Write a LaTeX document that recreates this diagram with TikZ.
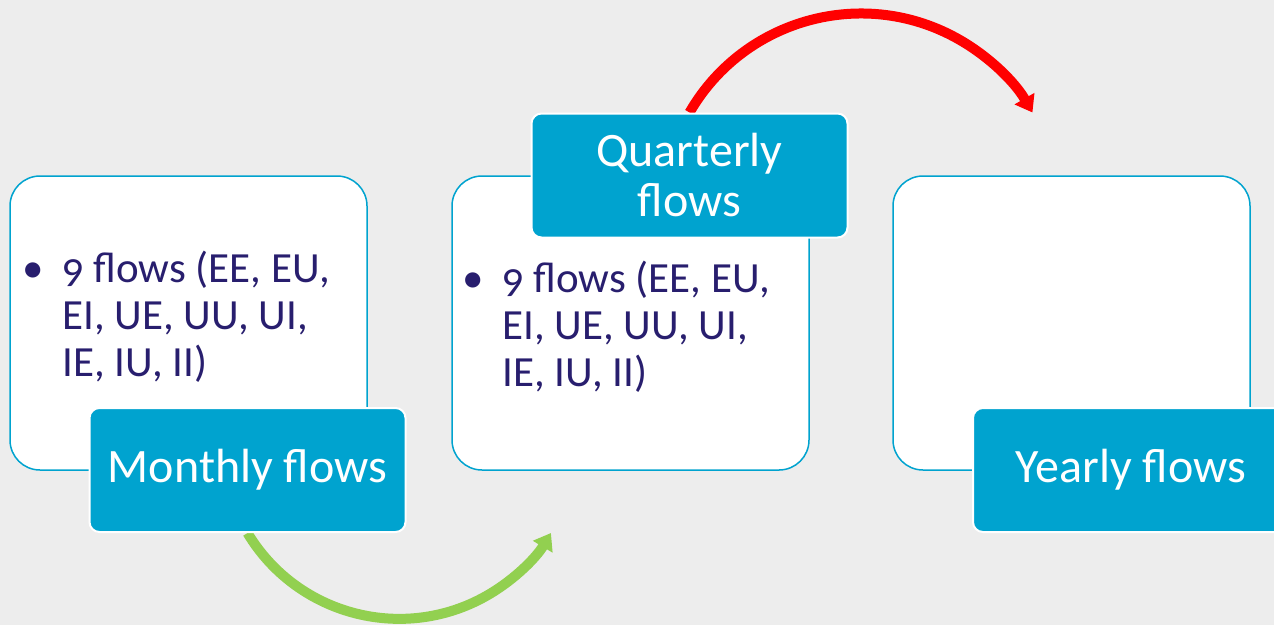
\documentclass[tikz,border=0pt]{standalone}
\usepackage{fontspec}
\setmainfont[Numbers=OldStyle]{Carlito}
\usetikzlibrary{arrows.meta}

\definecolor{flowcyan}{RGB}{0,163,207}
\definecolor{flowtext}{RGB}{40,30,110}
\definecolor{flowgreen}{RGB}{146,208,80}
\definecolor{flowbg}{RGB}{237,237,237}

\pgfdeclarelayer{back}
\pgfdeclarelayer{under}
\pgfsetlayers{back,under,main}

\tikzset{
  periodbox/.style={draw=flowcyan, line width=1.5pt, fill=white, rounded corners=30pt,
    minimum width=357pt, minimum height=294pt},
  periodtag/.style={draw=white, line width=2pt, fill=flowcyan, rounded corners=10pt,
    minimum width=316pt, minimum height=124pt, text=white, align=center,
    font=\fontsize{48}{50}\selectfont},
  flowlist/.style={anchor=north west, inner sep=0pt, text=flowtext, align=left,
    font=\fontsize{43}{47}\selectfont},
  arcarrow/.style={line width=10pt, -{Triangle[length=16pt,width=22pt]}},
}
\newcommand{\flowitems}{\llap{\textbullet\hspace{18pt}}9 flows (EE, EU,\\EI, UE, UU, UI,\\IE, IU, II)}

\begin{document}
\begin{tikzpicture}[x=1pt,y=-1pt]
        \useasboundingbox (0,0) rectangle (1274,625);
        \clip (0,0) rectangle (1274,625);
        \begin{pgfonlayer}{back}
        \fill[flowbg] (0,0) rectangle (1274,625); %背景
        \end{pgfonlayer}
        % 三个白框
        \node[periodbox] (monthbox) at (188.5,323) {};
        \node[periodbox] (quarterbox) at (630.5,323) {};
        \node[periodbox] (yearbox) at (1071.5,323) {};
        \node[flowlist] (monthlist) at (62,251) {\flowitems};
        \node[flowlist] (quarterlist) at (502,261) {\flowitems};
        % 标签
        \node[periodtag] (monthly) at (247.5,470) {Monthly flows};
        \node[periodtag] (quarterly) at (689.5,175.5) {Quarterly\\flows};
        \node[periodtag] (yearly) at (1131,470) {Yearly flows};
        % 弧形箭头
        \begin{pgfonlayer}{under}
        \draw[arcarrow, flowgreen] (monthly.south) arc[start angle=149, end angle=31, radius=177];
        \draw[arcarrow, red] (quarterly.north) arc[start angle=-150, end angle=-30, radius=198];
        \end{pgfonlayer}
\end{tikzpicture}
\end{document}
